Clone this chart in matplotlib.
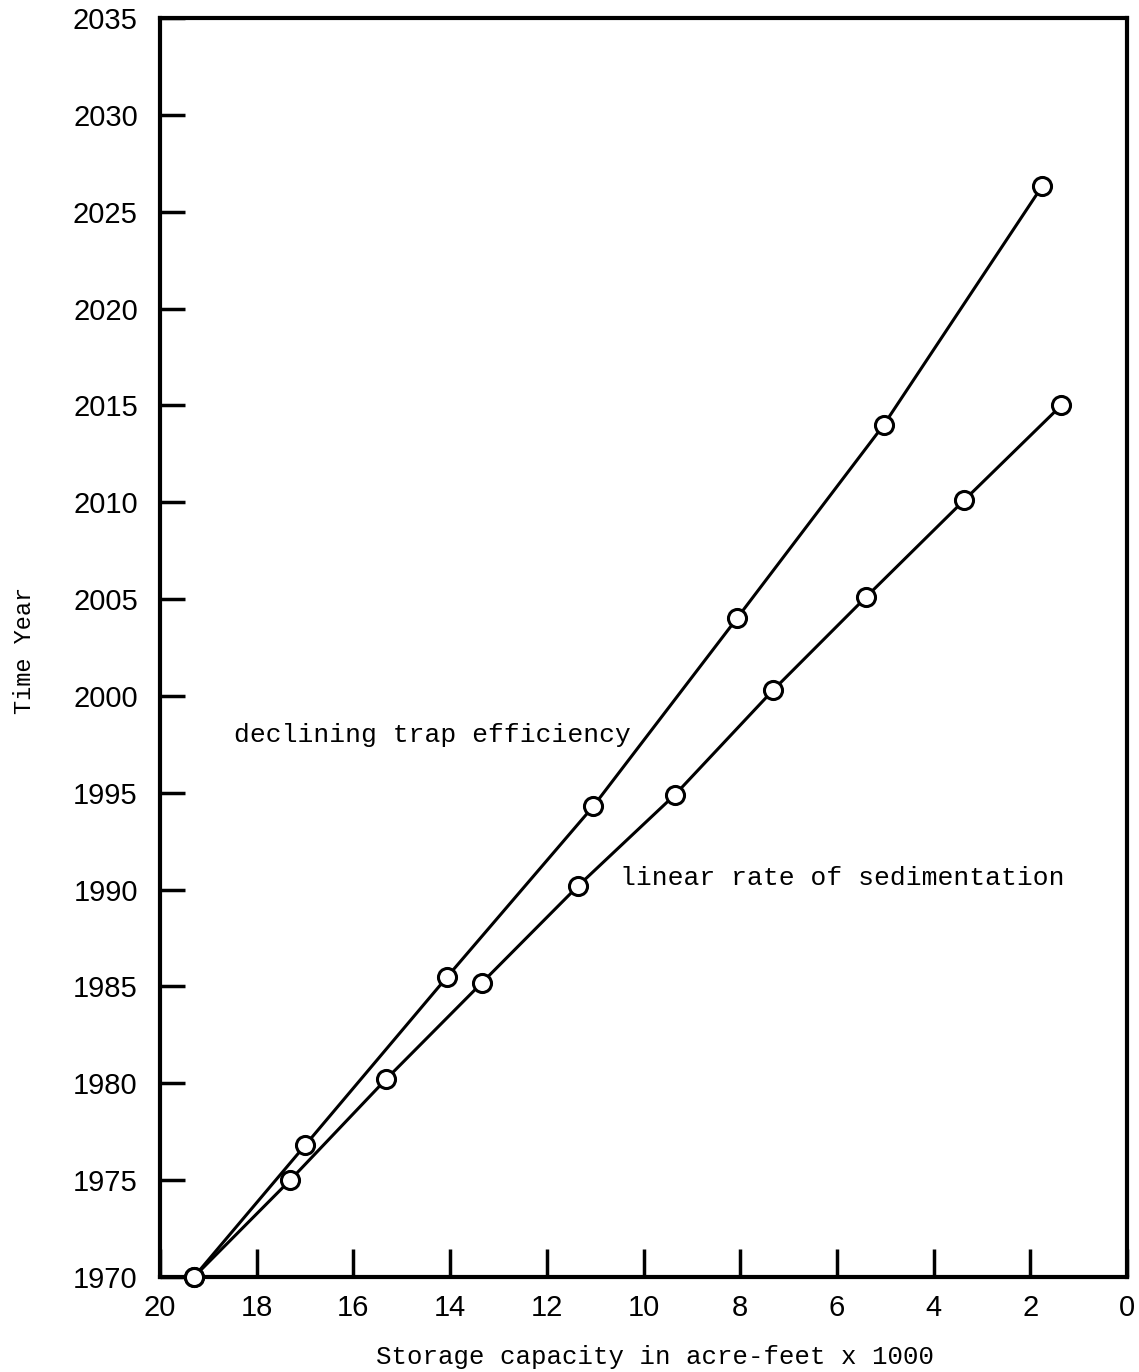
import matplotlib
matplotlib.use("Agg")
import matplotlib.pyplot as plt

# storage capacity (acre-feet x 1000) vs year
trap_capacity = [19.3, 17.0, 14.06, 11.04, 8.07, 5.03, 1.76]
trap_year = [1970, 1976.8, 1985.5, 1994.3, 2004.0, 2014.0, 2026.3]

linear_capacity = [19.3, 17.31, 15.33, 13.34, 11.35, 9.35, 7.32, 5.40, 3.37, 1.36]
linear_year = [1970, 1975.0, 1980.2, 1985.2, 1990.2, 1994.9, 2000.3, 2005.1, 2010.1, 2015.0]

x_ticks = [20, 18, 16, 14, 12, 10, 8, 6, 4, 2, 0]
y_ticks = [1970, 1975, 1980, 1985, 1990, 1995, 2000, 2005, 2010, 2015, 2020, 2025, 2030, 2035]

mono = "Liberation Mono"
tick_font = "Liberation Sans"

fig = plt.figure(figsize=(11.39, 13.72), dpi=100)
ax = fig.add_axes([0.1405, 0.0692, 0.9895 - 0.1405, 0.9869 - 0.0692])

style = dict(color="black", lw=2.2, marker="o", markersize=13, markerfacecolor="white",
             markeredgecolor="black", markeredgewidth=2.2, clip_on=False, zorder=3)
ax.plot(trap_capacity, trap_year, **style)
ax.plot(linear_capacity, linear_year, **style)

ax.set_xlim(20, 0)
ax.set_ylim(1970, 2035)
ax.set_xticks(x_ticks)
ax.set_yticks(y_ticks)

for s in ax.spines.values():
    s.set_linewidth(3)

ax.tick_params(axis="x", direction="in", length=20, width=2.5, pad=12, labelsize=21)
ax.tick_params(axis="y", direction="in", length=18, width=2.5, pad=16, labelsize=21)
for lab in ax.get_xticklabels() + ax.get_yticklabels():
    lab.set_fontfamily(tick_font)

ax.text(18.48, 1998.0, "declining trap efficiency", family=mono, fontsize=19,
        ha="left", va="center")
ax.text(10.49, 1990.6, "linear rate of sedimentation", family=mono, fontsize=19,
        ha="left", va="center")

# axis titles placed in figure coords so they stay on the canvas
fig.text(655 / 1139, 1 - 1357 / 1372, "Storage capacity in acre-feet x 1000",
         family=mono, fontsize=18.5, ha="center", va="center")
fig.text(25 / 1139, 1 - 650 / 1372, "Time Year", family=mono, fontsize=17,
         rotation=90, ha="center", va="center")

fig.savefig("out.png", dpi=100)
